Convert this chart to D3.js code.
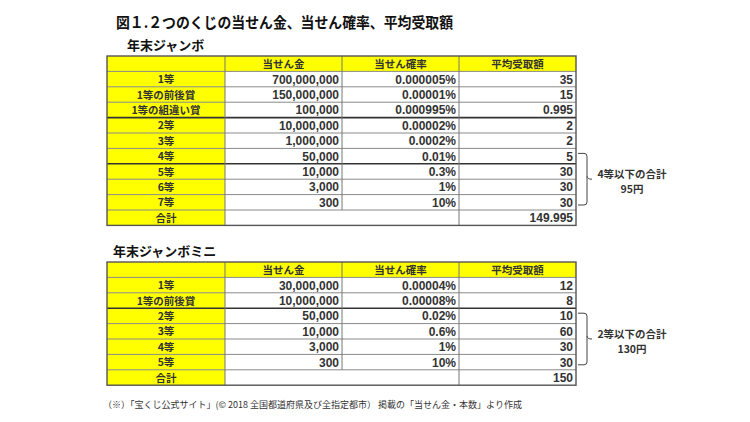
<!DOCTYPE html>
<html>
<head>
<meta charset="utf-8">
<script src="https://cdn.jsdelivr.net/npm/d3@7"></script>
<style>
  body { margin: 0; background: #fff; }
  svg { font-family: "Noto Sans CJK JP", "Noto Sans", sans-serif; }
</style>
</head>
<body>
<svg id="chart" width="750" height="422"></svg>
<script>
// column headers
const headers = ["", "当せん金", "当せん確率", "平均受取額"];

// 年末ジャンボ
const bigNames = ["1等", "1等の前後賞", "1等の組違い賞", "2等", "3等", "4等", "5等", "6等", "7等", "合計"];
const bigPrize = ["700,000,000", "150,000,000", "100,000", "10,000,000", "1,000,000", "50,000", "10,000", "3,000", "300", ""];
const bigProb = ["0.000005%", "0.00001%", "0.000995%", "0.00002%", "0.0002%", "0.01%", "0.3%", "1%", "10%", ""];
const bigAvg = ["35", "15", "0.995", "2", "2", "5", "30", "30", "30", "149.995"];
const bigThick = [2, 5];          // thick line below these rows
const bigBrace = [5, 8];          // rows covered by brace
const bigNote = ["4等以下の合計", "95円"];

// 年末ジャンボミニ
const miniNames = ["1等", "1等の前後賞", "2等", "3等", "4等", "5等", "合計"];
const miniPrize = ["30,000,000", "10,000,000", "50,000", "10,000", "3,000", "300", ""];
const miniProb = ["0.00004%", "0.00008%", "0.02%", "0.6%", "1%", "10%", ""];
const miniAvg = ["12", "8", "10", "60", "30", "30", "150"];
const miniThick = [1];
const miniBrace = [2, 5];
const miniNote = ["2等以下の合計", "130円"];

const svg = d3.select("#chart");
const colEdges = [107, 225, 342, 459, 576];
const rowH = 15.4;
const textCol = "#333";

svg.append("text")
    .attr("x", 116).attr("y", 28)
    .attr("font-size", 15).attr("font-weight", "bold").attr("fill", "#111")
    .attr("textLength", 337).attr("lengthAdjust", "spacingAndGlyphs")
    .text("図１.２つのくじの当せん金、当せん確率、平均受取額");

function drawTable(top, title, titleX, names, prize, prob, avg, thick, brace, note) {
    svg.append("text")
        .attr("x", titleX).attr("y", top - 6)
        .attr("font-size", 13).attr("font-weight", "bold").attr("fill", "#111")
        .text(title);

    const rows = ["head"].concat(names);
    const n = rows.length;
    const y = d3.scaleBand().domain(d3.range(n)).range([top, top + rowH * n]);
    const x = d3.scaleOrdinal().domain(d3.range(5)).range(colEdges);
    const g = svg.append("g");

    // backgrounds
    g.append("rect")
        .attr("x", x(0)).attr("y", y(0))
        .attr("width", x(4) - x(0)).attr("height", y.bandwidth())
        .attr("fill", "#ffff00");
    g.selectAll("rect.name").data(names).join("rect")
        .attr("x", x(0)).attr("y", (d, i) => y(i + 1))
        .attr("width", x(1) - x(0)).attr("height", y.bandwidth())
        .attr("fill", "#ffff00");

    // horizontal lines
    const bottom = y(n - 1) + y.bandwidth();
    g.selectAll("line.h").data(d3.range(1, n)).join("line")
        .attr("x1", x(0)).attr("x2", x(4))
        .attr("y1", d => y(d)).attr("y2", d => y(d))
        .attr("stroke", d => thick.includes(d - 2) ? "#333" : "#8a8a8a")
        .attr("stroke-width", d => thick.includes(d - 2) ? 1.6 : 1);
    // vertical lines (total row merges the two middle columns)
    g.selectAll("line.v").data(d3.range(1, 4)).join("line")
        .attr("x1", d => x(d)).attr("x2", d => x(d))
        .attr("y1", y(0)).attr("y2", d => d === 2 ? y(n - 1) : bottom)
        .attr("stroke", "#777").attr("stroke-width", 1);
    g.append("rect")
        .attr("x", x(0)).attr("y", y(0))
        .attr("width", x(4) - x(0)).attr("height", bottom - y(0))
        .attr("fill", "none").attr("stroke", "#555").attr("stroke-width", 1.4);

    // header texts
    g.selectAll("text.head").data(headers).join("text")
        .attr("x", (d, i) => (x(i) + x(i + 1)) / 2)
        .attr("y", y(0) + y.bandwidth() / 2 + 4)
        .attr("text-anchor", "middle")
        .attr("font-size", 10.5).attr("font-weight", "bold").attr("fill", textCol)
        .text(d => d);

    // name column
    g.selectAll("text.name").data(names).join("text")
        .attr("x", (x(0) + x(1)) / 2)
        .attr("y", (d, i) => y(i + 1) + y.bandwidth() / 2 + 4)
        .attr("text-anchor", "middle")
        .attr("font-size", 10.5).attr("font-weight", "bold").attr("fill", textCol)
        .text(d => d);

    // value columns
    [prize, prob, avg].forEach((vals, c) => {
        g.selectAll("text.v" + c).data(vals).join("text")
            .attr("x", x(c + 2) - 3)
            .attr("y", (d, i) => y(i + 1) + y.bandwidth() / 2 + 4.5)
            .attr("text-anchor", "end")
            .attr("font-family", "Arial, 'Liberation Sans', sans-serif")
            .attr("font-size", 12).attr("font-weight", "bold").attr("fill", textCol)
            .text(d => d);
    });

    // brace
    const b0 = y(brace[0] + 1) + 5, b1 = y(brace[1] + 1) + y.bandwidth() - 5;
    const bm = (b0 + b1) / 2;
    const bx = x(4) + 2;
    g.append("path")
        .attr("d", `M${bx},${b0} L${bx + 6},${b0} Q${bx + 9},${b0} ${bx + 9},${b0 + 3} L${bx + 9},${bm - 3} Q${bx + 9},${bm} ${bx + 14},${bm}
                    M${bx + 9},${bm + 3} L${bx + 9},${b1 - 3} Q${bx + 9},${b1} ${bx + 6},${b1} L${bx},${b1}
                    M${bx + 9},${bm - 3} Q${bx + 9},${bm} ${bx + 9},${bm + 3}`)
        .attr("fill", "none").attr("stroke", "#444").attr("stroke-width", 1);
    g.selectAll("text.note").data(note).join("text")
        .attr("x", 632)
        .attr("y", (d, i) => bm - 1 + i * 15)
        .attr("text-anchor", "middle")
        .attr("font-size", 10.5).attr("font-weight", "bold").attr("fill", textCol)
        .text(d => d);
}

drawTable(56, "年末ジャンボ", 127, bigNames, bigPrize, bigProb, bigAvg, bigThick, bigBrace, bigNote);
drawTable(262, "年末ジャンボミニ", 113, miniNames, miniPrize, miniProb, miniAvg, miniThick, miniBrace, miniNote);

svg.append("text")
    .attr("x", 103).attr("y", 408)
    .attr("font-size", 9).attr("fill", textCol)
    .text("（※）「宝くじ公式サイト」(© 2018 全国都道府県及び全指定都市） 掲載の「当せん金・本数」より作成");
</script>
</body>
</html>
